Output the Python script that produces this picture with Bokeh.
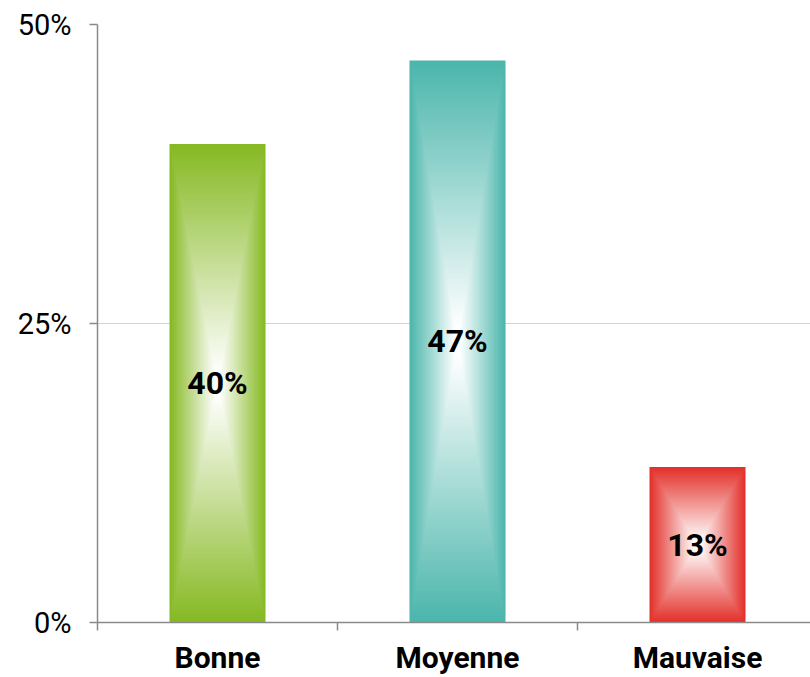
from bokeh.plotting import figure
from bokeh.models import Range1d, FixedTicker, PrintfTickFormatter
from bokeh.core.properties import value
from bokeh.embed import file_html
from bokeh.resources import INLINE

# ---- data ----
categories = ["Bonne", "Moyenne", "Mauvaise"]
values = [40, 47, 13]
labels = ["40%", "47%", "13%"]
colors = ["#86b923", "#4bb6ac", "#e3302a"]
y_ticks = [0, 25, 50]

FONT = "Roboto"
N = 90
BAR_W = 0.4

p = figure(width=810, height=677, output_backend="svg", toolbar_location=None,
           x_range=Range1d(0, 713 / 240), y_range=Range1d(0, 50))
p.min_border_left = 97
p.min_border_right = 0
p.min_border_top = 24
p.min_border_bottom = 54
p.outline_line_color = None
p.background_fill_color = "white"
p.border_fill_color = "white"
p.xgrid.visible = False
p.ygrid.ticker = FixedTicker(ticks=[25, 50])
p.ygrid.grid_line_color = "#a8a8a8"
p.ygrid.grid_line_dash = "1 1"
p.ygrid.grid_line_width = 1


def mix(c, t):
    r, g, b = int(c[1:3], 16), int(c[3:5], 16), int(c[5:7], 16)
    f = min(1.0, t)
    r = round(r + (255 - r) * f)
    g = round(g + (255 - g) * f)
    b = round(b + (255 - b) * f)
    return "#%02x%02x%02x" % (r, g, b)


# concentric rectangles -> rectangular "from centre" gradient
L, R, B, T, C = [], [], [], [], []
for i, (v, col) in enumerate(zip(values, colors)):
    xc = i + 0.5
    for k in range(N):
        t = k / N
        s = 1 - t
        L.append(xc - BAR_W / 2 * s)
        R.append(xc + BAR_W / 2 * s)
        B.append(v / 2 - v / 2 * s)
        T.append(v / 2 + v / 2 * s)
        C.append(mix(col, t / 0.95))
p.quad(left=L, right=R, bottom=B, top=T, fill_color=C, line_color=None)

p.text(x=[i + 0.5 for i in range(len(values))], y=[v / 2 for v in values],
       text=labels, text_align="center", text_baseline="middle",
       text_font=value(FONT), text_font_style="bold", text_font_size="32px",
       text_color="black")

# y axis
ya = p.yaxis[0]
ya.ticker = FixedTicker(ticks=y_ticks)
ya.formatter = PrintfTickFormatter(format="%d%%")
ya.major_label_text_font = FONT
ya.major_label_text_font_size = "29px"
ya.major_label_text_color = "black"
ya.major_label_standoff = 18
ya.major_tick_out = 8
ya.major_tick_in = 0
ya.minor_tick_out = 0
ya.minor_tick_in = 0
ya.axis_line_color = "#8a8a8a"
ya.major_tick_line_color = "#8a8a8a"
ya.axis_line_width = 1.5
ya.major_tick_line_width = 1.5

# x axis
xa = p.xaxis[0]
centers = [i + 0.5 for i in range(len(categories))]
xa.ticker = FixedTicker(ticks=centers, minor_ticks=list(range(len(categories) + 1)))
xa.major_label_overrides = {c: n for c, n in zip(centers, categories)}
xa.major_label_text_font = FONT
xa.major_label_text_font_style = "bold"
xa.major_label_text_font_size = "30px"
xa.major_label_text_color = "black"
xa.major_label_standoff = 9
xa.major_tick_out = 0
xa.major_tick_in = 0
xa.minor_tick_out = 8
xa.minor_tick_in = 0
xa.axis_line_color = "#8a8a8a"
xa.minor_tick_line_color = "#8a8a8a"
xa.axis_line_width = 1.5
xa.minor_tick_line_width = 1.5

open("out.html", "w").write(file_html(p, INLINE))
